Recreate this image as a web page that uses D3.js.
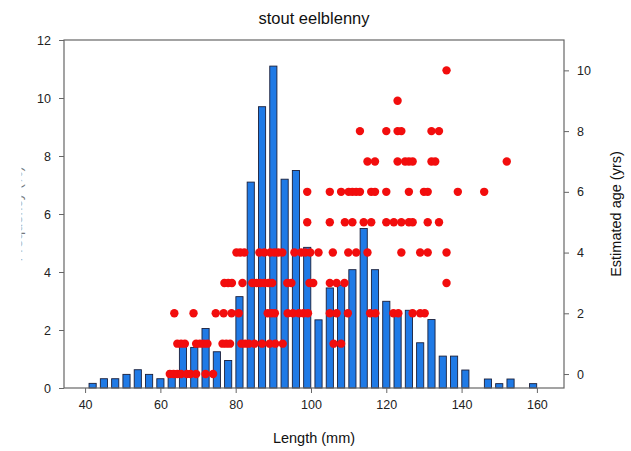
<!DOCTYPE html>
<html>
<head>
<meta charset="utf-8">
<script src="https://cdn.jsdelivr.net/npm/d3@7"></script>
<style>
  body { margin: 0; background: #fff; }
  text { font-family: "Liberation Sans", Arial, sans-serif; }
</style>
</head>
<body>
<svg id="chart" width="631" height="451"></svg>
<script>
// length bins (mm, bin centres) and % frequency
const lengthBins = [42, 45, 48, 51, 54, 57, 60, 63, 66, 69, 72, 75, 78, 81, 84, 87, 90, 93, 96, 99,
  102, 105, 108, 111, 114, 117, 120, 123, 126, 129, 132, 135, 138, 141, 144, 147, 150, 153, 156, 159];
const freqPct = [0.16, 0.32, 0.32, 0.47, 0.63, 0.47, 0.32, 0.6, 1.55, 1.4, 2.05, 1.25, 0.95, 3.15, 7.1, 9.7, 11.1, 7.2, 7.5, 4.85,
  2.35, 3.45, 3.55, 4.08, 5.5, 4.08, 2.99, 2.53, 2.68, 1.56, 2.36, 1.1, 1.1, 0.62, 0, 0.31, 0.15, 0.31, 0, 0.15];

// lengths (mm) of aged fish, one array per estimated age
const age0 = [62.5, 63.5, 64.5, 65.5, 67, 68, 69.5, 72, 74];
const age1 = [64.5, 65.5, 66.5, 69.5, 70.5, 71.5, 72.5, 76.5, 77.5, 78.5, 81.5, 82.5, 83.5, 85, 87, 89, 90.5, 92.5, 106, 108];
const age2 = [63.7, 68.8, 74.7, 76.8, 78.9, 80.8, 88.5, 89.5, 90.4, 93.8, 95.2, 96.8, 98, 99.2, 105, 106.8, 109.8, 115.7, 117.1, 121.9, 123.2, 127, 129, 130.2];
const age3 = [77, 78, 79, 81.8, 84.4, 85.5, 86.5, 87.6, 88.7, 89.7, 93.7, 94.8, 99.6, 100.6, 105, 106.8, 108.9, 136];
const age4 = [80.2, 81.2, 82.3, 86.3, 87.6, 89.2, 90.3, 91.3, 92.4, 95.6, 97.4, 98.5, 99.8, 102, 105.8, 109.9, 112, 115, 124, 129, 131, 136];
const age5 = [99, 105, 109, 111, 114, 116, 120, 122, 124, 126, 127, 131, 134];
const age6 = [99, 105, 108, 110, 111, 112, 113, 116, 117, 120, 126, 130, 131, 139, 146];
const age7 = [115, 117, 123, 125, 126, 127, 132, 133, 152];
const age8 = [113, 120, 123, 124, 132, 134];
const age9 = [123];
const age10 = [136];

const xTicks = [40, 60, 80, 100, 120, 140, 160];
const leftTicks = [0, 2, 4, 6, 8, 10, 12];
const rightTicks = [0, 2, 4, 6, 8, 10];

const svg = d3.select("#chart"),
  margin = { top: 40, right: 67, bottom: 63, left: 64 },
  width = +svg.attr("width") - margin.left - margin.right,
  height = +svg.attr("height") - margin.top - margin.bottom;

const g = svg.append("g").attr("transform", `translate(${margin.left},${margin.top})`);

const x = d3.scaleLinear().domain([34.4, 167.2]).range([0, width]);
const yL = d3.scaleLinear().domain([0, 12]).range([height, 0]);
const yR = d3.scaleLinear().domain([-0.46, 11]).range([height, 0]);

const bars = lengthBins.map((c, i) => ({ c, v: freqPct[i] })).filter((d) => d.v > 0);
const halfW = 0.95;

g.selectAll(".bar")
  .data(bars)
  .enter()
  .append("rect")
  .attr("class", "bar")
  .attr("x", (d) => x(d.c - halfW))
  .attr("width", (d) => x(d.c + halfW) - x(d.c - halfW))
  .attr("y", (d) => yL(d.v))
  .attr("height", (d) => height - yL(d.v))
  .attr("fill", "#1f7ae6")
  .attr("stroke", "#1a1f3a")
  .attr("stroke-width", 0.9);

const points = [age0, age1, age2, age3, age4, age5, age6, age7, age8, age9, age10]
  .flatMap((lens, age) => lens.map((len) => ({ len, age })));

g.selectAll(".pt")
  .data(points)
  .enter()
  .append("circle")
  .attr("class", "pt")
  .attr("cx", (d) => x(d.len))
  .attr("cy", (d) => yR(d.age))
  .attr("r", 4.2)
  .attr("fill", "#f20d0d");

// frame
g.append("rect")
  .attr("width", width)
  .attr("height", height)
  .attr("fill", "none")
  .attr("stroke", "#666")
  .attr("stroke-width", 1.2);

function styleAxis(sel) {
  sel.select(".domain").remove();
  sel.selectAll(".tick line").attr("stroke", "#666");
  sel.selectAll(".tick text").attr("fill", "#222").style("font-size", "12.5px");
}

g.append("g")
  .attr("transform", `translate(0,${height})`)
  .call(d3.axisBottom(x).tickValues(xTicks).tickSize(5).tickPadding(7).tickSizeOuter(0))
  .call(styleAxis);

g.append("g")
  .call(d3.axisLeft(yL).tickValues(leftTicks).tickSize(5).tickPadding(8).tickSizeOuter(0))
  .call(styleAxis);

g.append("g")
  .attr("transform", `translate(${width},0)`)
  .call(d3.axisRight(yR).tickValues(rightTicks).tickSize(5).tickPadding(8).tickSizeOuter(0))
  .call(styleAxis);

// titles
svg.append("text")
  .attr("x", margin.left + width / 2)
  .attr("y", 24)
  .attr("text-anchor", "middle")
  .attr("fill", "#111")
  .style("font-size", "16.5px")
  .text("stout eelblenny");

svg.append("text")
  .attr("x", margin.left + width / 2)
  .attr("y", 443)
  .attr("text-anchor", "middle")
  .attr("fill", "#111")
  .style("font-size", "14.5px")
  .text("Length (mm)");

svg.append("text")
  .attr("transform", `translate(621,${margin.top + height / 2}) rotate(-90)`)
  .attr("text-anchor", "middle")
  .attr("fill", "#111")
  .style("font-size", "14.5px")
  .text("Estimated age (yrs)");

// left label is cut off in the original, only its edge shows
svg.append("clipPath").attr("id", "leftclip")
  .append("rect").attr("x", 21.5).attr("y", 0).attr("width", 20).attr("height", 451);

svg.append("g")
  .attr("clip-path", "url(#leftclip)")
  .append("text")
  .attr("transform", `translate(22,214) rotate(-90)`)
  .attr("text-anchor", "middle")
  .attr("fill", "#777")
  .style("font-size", "14.5px")
  .text("Frequency (%)");
</script>
</body>
</html>
